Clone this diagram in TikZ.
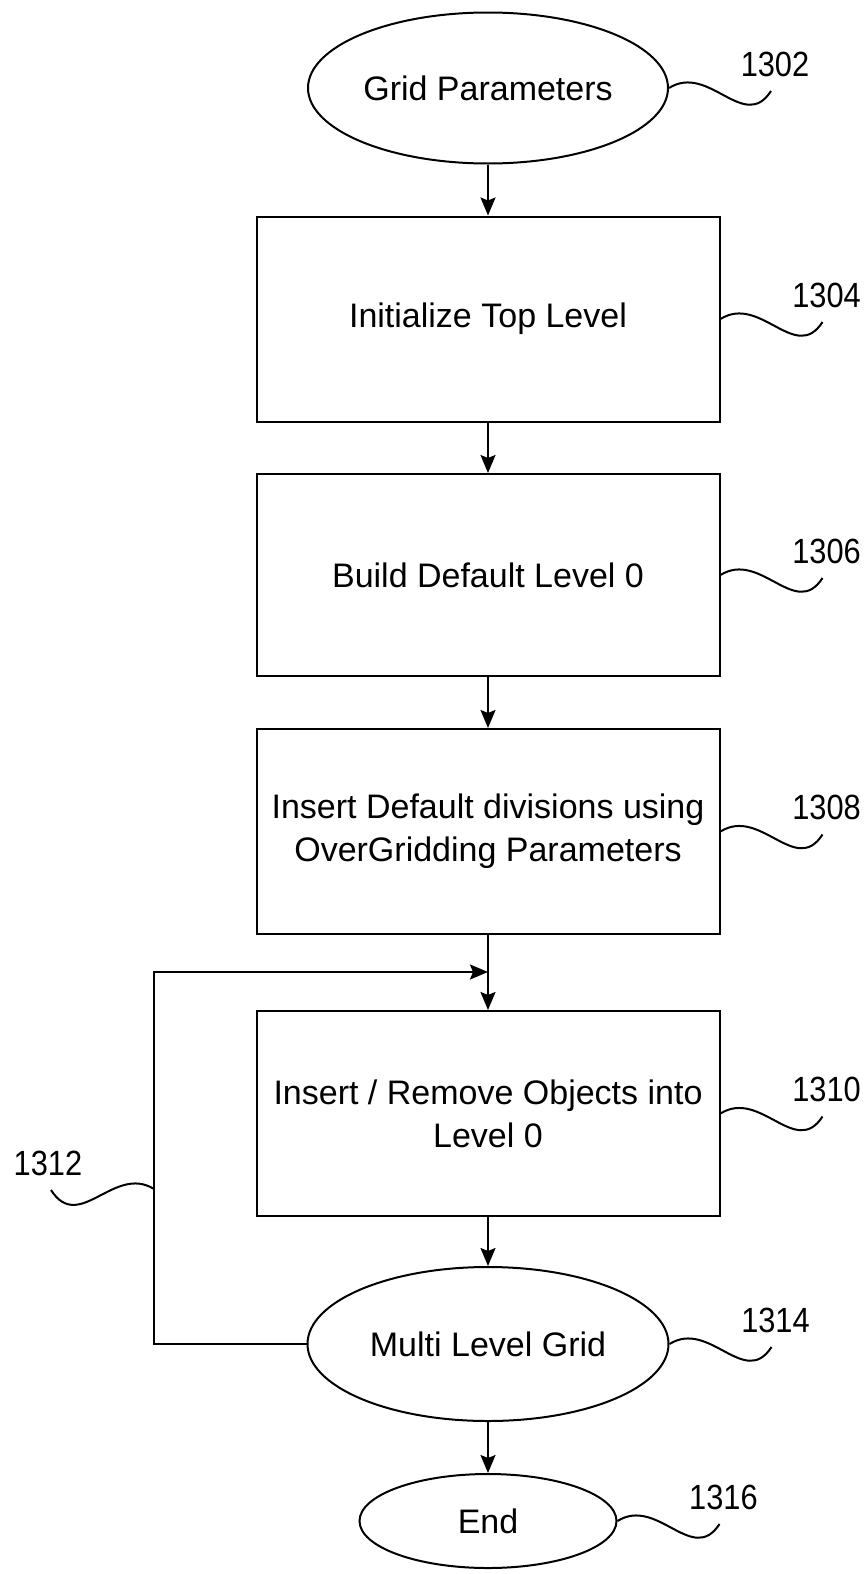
\documentclass[tikz,border=0pt]{standalone}
\usepackage{fontspec}
\setmainfont{Liberation Sans}
\newfontfamily\labelfont[FakeStretch=0.88]{Liberation Sans}
\usetikzlibrary{shapes.geometric, arrows.meta, positioning, calc}

\tikzset{
  stepbox/.style={draw, line width=2pt, minimum width=463pt, minimum height=205pt,
    align=center, inner sep=0pt, font=\fontsize{34}{43}\selectfont},
  term/.style={draw, ellipse, line width=2pt, inner sep=0pt, font=\fontsize{34}{43}\selectfont},
  arr/.style={line width=2pt, -{Stealth[length=18pt,width=15pt,inset=3pt]}},
  squig/.style={line width=2pt},
  reflbl/.style={font=\fontsize{35}{40}\selectfont\labelfont, inner sep=0pt}
}

\begin{document}
\begin{tikzpicture}[x=1pt, y=-1pt]
\useasboundingbox (0,0) rectangle (867,1574);

% flow steps
\node[term, minimum width=360pt, minimum height=151pt] (gp) at (488,88) {Grid Parameters};
\node[stepbox] (init) at (488,319) {Initialize Top Level};
\node[stepbox, minimum height=202pt] (build) at (488,575) {Build Default Level 0};
\node[stepbox] (ins) at (488,831.5) {Insert Default divisions using\\OverGridding Parameters};
\node[stepbox] (objs) at (488,1113.5) {Insert / Remove Objects into\\Level 0};
\node[term, minimum width=361pt, minimum height=154pt] (mlg) at (488,1344) {Multi Level Grid};
\node[term, minimum width=257pt, minimum height=94pt] (fin) at (488,1521) {End};

% connectors
\foreach \a/\b in {gp/init, init/build, build/ins, ins/objs, objs/mlg, mlg/fin}
  \draw[arr] (\a.south) -- (\b.north);

% feedback loop
\coordinate (join) at (488,972);
\coordinate (corner) at (154,1344);
\coordinate (lp) at (154,1189);
\draw[arr] (mlg.west) -- (corner) |- (join);

% reference numerals
\foreach \nd/\num in {gp/1302, init/1304, build/1306, ins/1308, objs/1310, mlg/1314, fin/1316} {
  \draw[squig] (\nd.east) .. controls +(40,-25) and +(-27,42) .. ($(\nd.east)+(102,3)$) coordinate (e\num);
  \node[reflbl] (l\num) at ($(e\num)+(4,-27)$) {\num};
}
\draw[squig] (lp) .. controls +(-40,-25) and +(28,44) .. ($(lp)+(-103,1)$) coordinate (e1312);
\node[reflbl] (l1312) at ($(e1312)+(-3,-27)$) {1312};
\end{tikzpicture}
\end{document}
